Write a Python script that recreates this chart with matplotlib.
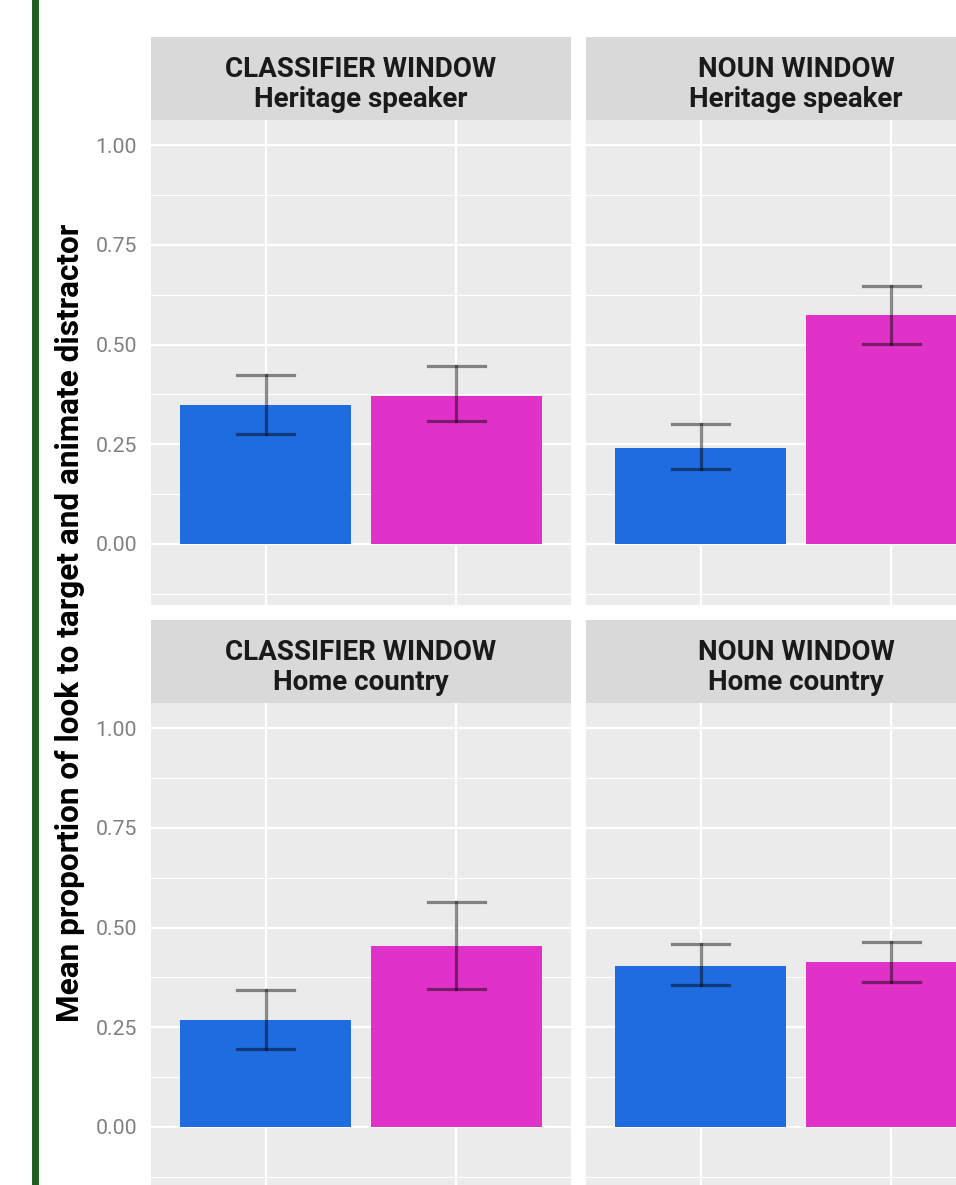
import matplotlib.pyplot as plt

# data (bars + error bar ends)
windows = ['CLASSIFIER WINDOW', 'NOUN WINDOW', 'CLASSIFIER WINDOW', 'NOUN WINDOW']
groups = ['Heritage speaker', 'Heritage speaker', 'Home country', 'Home country']
blue_mean = [0.348, 0.241, 0.268, 0.403]
blue_lo = [0.276, 0.188, 0.195, 0.355]
blue_hi = [0.424, 0.301, 0.343, 0.458]
pink_mean = [0.371, 0.574, 0.455, 0.413]
pink_lo = [0.308, 0.501, 0.345, 0.363]
pink_hi = [0.446, 0.647, 0.565, 0.465]
yticks = [0.0, 0.25, 0.5, 0.75, 1.0]
ytick_labels = ['0.00', '0.25', '0.50', '0.75', '1.00']

blue = '#1F6BE0'
pink = '#E032C8'
W, H = 956, 1185

plt.rcParams['font.family'] = ['Roboto', 'DejaVu Sans']

fig = plt.figure(figsize=(W / 100, H / 100), dpi=100)


def box(x0, y0, w, h):
    # pixel box (top-left origin) -> figure fraction
    return [x0 / W, 1 - (y0 + h) / H, w / W, h / H]


# green bar on the left edge
fig.add_artist(plt.Line2D([35 / W, 35 / W], [0, 1], color='#1B5E20', lw=5))

lefts = [151, 586, 151, 586]
strip_tops = [37, 37, 620, 620]
for i in range(4):
    x0 = lefts[i]
    st = strip_tops[i]
    sax = fig.add_axes(box(x0, st, 420, 83))
    sax.set_facecolor('#D9D9D9')
    sax.set_xticks([])
    sax.set_yticks([])
    for s in sax.spines.values():
        s.set_visible(False)
    sax.text(0.5, 0.61, windows[i], ha='center', va='center', fontsize=20,
             fontweight='bold', color='#1A1A1A', transform=sax.transAxes)
    sax.text(0.5, 0.245, groups[i], ha='center', va='center', fontsize=20,
             fontweight='bold', color='#1A1A1A', transform=sax.transAxes)

    ax = fig.add_axes(box(x0, st + 83, 420, 485))
    ax.set_facecolor('#EBEBEB')
    ax.set_xlim(0.4, 2.6)
    ax.set_ylim(-0.153, 1.063)
    ax.set_axisbelow(True)
    ax.set_yticks(yticks)
    ax.set_yticks([-0.125, 0.125, 0.375, 0.625, 0.875], minor=True)
    ax.set_xticks([1, 2])
    ax.grid(which='major', color='white', lw=1.6)
    ax.grid(which='minor', axis='y', color='white', lw=0.8)
    for s in ax.spines.values():
        s.set_visible(False)
    ax.tick_params(axis='x', length=0, labelbottom=False)
    ax.tick_params(axis='y', which='minor', length=0)
    if x0 == 151:
        ax.set_yticklabels(ytick_labels)
        ax.tick_params(axis='y', length=0, labelsize=15.3,
                       labelcolor='#808080', pad=10)
    else:
        ax.tick_params(axis='y', length=0, labelleft=False)

    ax.bar([1, 2], [blue_mean[i], pink_mean[i]], width=0.9, color=[blue, pink])
    for xpos, lo, hi in [(1, blue_lo[i], blue_hi[i]), (2, pink_lo[i], pink_hi[i])]:
        ax.plot([xpos, xpos], [lo, hi], color='black', alpha=0.45, lw=2.3)
        ax.plot([xpos - 0.15, xpos + 0.15], [lo, lo], color='black', alpha=0.45, lw=2.3)
        ax.plot([xpos - 0.15, xpos + 0.15], [hi, hi], color='black', alpha=0.45, lw=2.3)

fig.text(70 / W, 1 - 623 / H, 'Mean proportion of look to target and animate distractor',
         rotation=90, ha='center', va='center', fontsize=22.7, fontweight='bold',
         color='black')

fig.savefig('out.png', dpi=100)
